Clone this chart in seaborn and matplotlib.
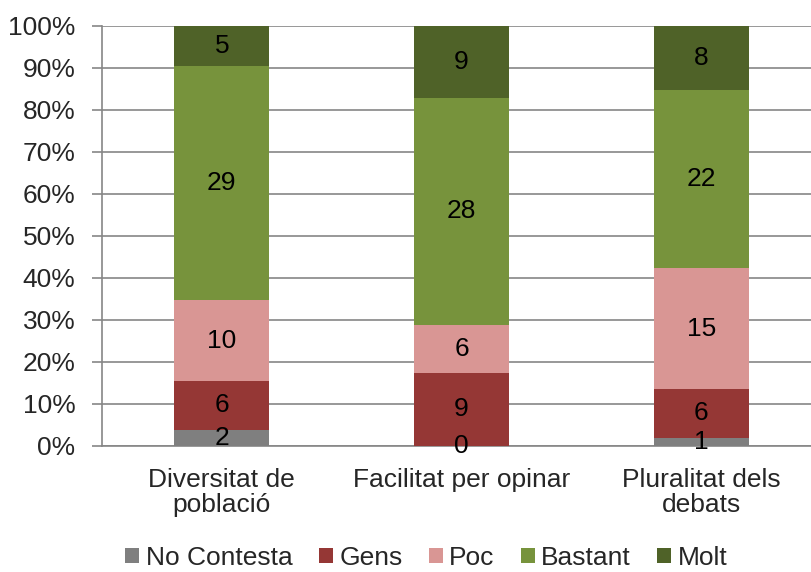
import numpy as np
import pandas as pd
import matplotlib
matplotlib.use("Agg")
import matplotlib.pyplot as plt
import seaborn as sns
from matplotlib.patches import Patch

categories = ["Diversitat de\npoblació", "Facilitat per opinar", "Pluralitat dels\ndebats"]
series_names = ["No Contesta", "Gens", "Poc", "Bastant", "Molt"]
no_contesta = [2, 0, 1]
gens = [6, 9, 6]
poc = [10, 6, 15]
bastant = [29, 28, 22]
molt = [5, 9, 8]
colors = ["#7F7F7F", "#953735", "#D99694", "#77933C", "#4F6228"]
yticks = [0, 10, 20, 30, 40, 50, 60, 70, 80, 90, 100]

sns.set_style("white")
plt.rcParams["font.family"] = ["Liberation Sans", "DejaVu Sans"]
FS = 19

values = np.array([no_contesta, gens, poc, bastant, molt], dtype=float)
totals = values.sum(axis=0)
pct = values / totals * 100
cum = np.cumsum(pct, axis=0)

fig = plt.figure(figsize=(8.11, 5.72), dpi=100)
ax = fig.add_axes([102 / 811, 1 - 445.7 / 572, 719 / 811, 420 / 572])

# draw cumulative bars, top series first
for i in range(len(series_names) - 1, -1, -1):
    df = pd.DataFrame({"cat": categories, "val": cum[i]})
    sns.barplot(data=df, x="cat", y="val", color=colors[i], saturation=1,
                width=0.397, ax=ax, zorder=3, linewidth=0)

# data labels
for i in range(len(series_names)):
    for j in range(len(categories)):
        bottom = cum[i][j] - pct[i][j]
        mid = bottom + pct[i][j] / 2
        ax.text(j, mid, f"{int(values[i][j])}", ha="center", va="center",
                fontsize=FS, color="black", zorder=5)

ax.set_xlim(-0.5, 2.5)
ax.set_ylim(0, 100)
ax.set_yticks(yticks)
ax.set_yticklabels([f"{t}%" for t in yticks])
ax.set_xlabel("")
ax.set_ylabel("")

ax.set_xticks([0, 1, 2])
ax.set_xticklabels(categories, linespacing=1.06)
ax.set_xticks([0.5, 1.5], minor=True)
ax.tick_params(axis="x", which="major", length=0, pad=16, labelsize=FS)
ax.tick_params(axis="x", which="minor", length=7, width=1.2, color="#868686", direction="out")
ax.tick_params(axis="y", which="major", length=7, width=1.2, color="#868686", pad=12, labelsize=FS, left=True)

ax.yaxis.grid(True, color="#868686", linewidth=1.2)
ax.set_axisbelow(True)
for s in ["top", "right"]:
    ax.spines[s].set_visible(False)
for s in ["left", "bottom"]:
    ax.spines[s].set_color("#868686")
    ax.spines[s].set_linewidth(1.2)

handles = [Patch(facecolor=c, edgecolor="none", label=n) for c, n in zip(colors, series_names)]
fig.legend(handles=handles, loc="center", bbox_to_anchor=(426.5 / 811, 1 - 558 / 572), ncol=5,
           frameon=False, fontsize=FS, handlelength=0.53, handleheight=0.53,
           handletextpad=0.24, columnspacing=1.0, borderpad=0)

fig.savefig("out.png", dpi=100)
